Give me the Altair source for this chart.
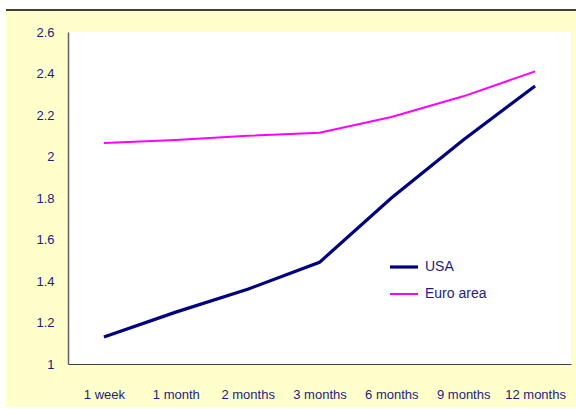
import altair as alt
import pandas as pd

categories = ["1 week", "1 month", "2 months", "3 months", "6 months", "9 months", "12 months"]
usa = [1.13, 1.25, 1.36, 1.49, 1.80, 2.08, 2.34]
euro = [2.065, 2.08, 2.10, 2.115, 2.19, 2.29, 2.41]
series_names = ["USA", "Euro area"]
y_ticks = [1, 1.2, 1.4, 1.6, 1.8, 2, 2.2, 2.4, 2.6]

rows = []
for name, vals in zip(series_names, [usa, euro]):
    for c, v in zip(categories, vals):
        rows.append({"term": c, "value": v, "series": name})
df = pd.DataFrame(rows)

W, H = 503, 332
text_color = "#1c1c80"
font = "Liberation Sans"

one = pd.DataFrame([{"k": 0}])

bg = alt.Chart(one).mark_rect(color="#FFFFCC").encode(
    x=alt.value(-62), x2=alt.value(508), y=alt.value(-22), y2=alt.value(375)
)
topline = alt.Chart(one).mark_rule(color="#000000", strokeWidth=1.5).encode(
    x=alt.value(-62), x2=alt.value(508), y=alt.value(-22)
)
plotbg = alt.Chart(one).mark_rect(color="#FFFFFF").encode(
    x=alt.value(0), x2=alt.value(W), y=alt.value(0), y2=alt.value(H)
)

lines = alt.Chart(df).mark_line(strokeCap="butt").encode(
    x=alt.X("term:N", sort=categories, title=None,
            scale=alt.Scale(type="point", padding=0.5),
            axis=alt.Axis(labelAngle=0, ticks=False, tickSize=0, labelPadding=24,
                          domainColor="#404040", domainWidth=1.2, zindex=1)),
    y=alt.Y("value:Q", title=None,
            scale=alt.Scale(domain=[1, 2.6], nice=False, zero=False),
            axis=alt.Axis(values=y_ticks, format="~g", ticks=False, tickSize=0,
                          labelPadding=14, grid=False, zindex=1,
                          domainColor="#606060", domainWidth=1.5)),
    color=alt.Color("series:N", sort=series_names, title=None,
                    scale=alt.Scale(domain=series_names, range=["#000080", "#FF00FF"])),
    strokeWidth=alt.StrokeWidth("series:N", sort=series_names, title=None,
                                scale=alt.Scale(domain=series_names, range=[3.2, 2])),
)

chart = alt.layer(bg, topline, plotbg, lines).properties(
    width=W, height=H,
    autosize=alt.AutoSizeParams(type="none"),
    padding={"left": 68, "top": 32, "right": 5, "bottom": 45},
    background="#FFFFFF",
).configure_view(stroke=None).configure_axis(
    labelFont=font, labelFontSize=13, labelColor=text_color, grid=False
).configure_legend(
    orient="none", legendX=320, legendY=219,
    symbolType="stroke", symbolSize=784, labelFont=font, labelFontSize=14,
    labelColor=text_color, labelOffset=5, rowPadding=5, padding=0
)

chart.save("out.html", embed_options={"renderer": "svg", "actions": False})
